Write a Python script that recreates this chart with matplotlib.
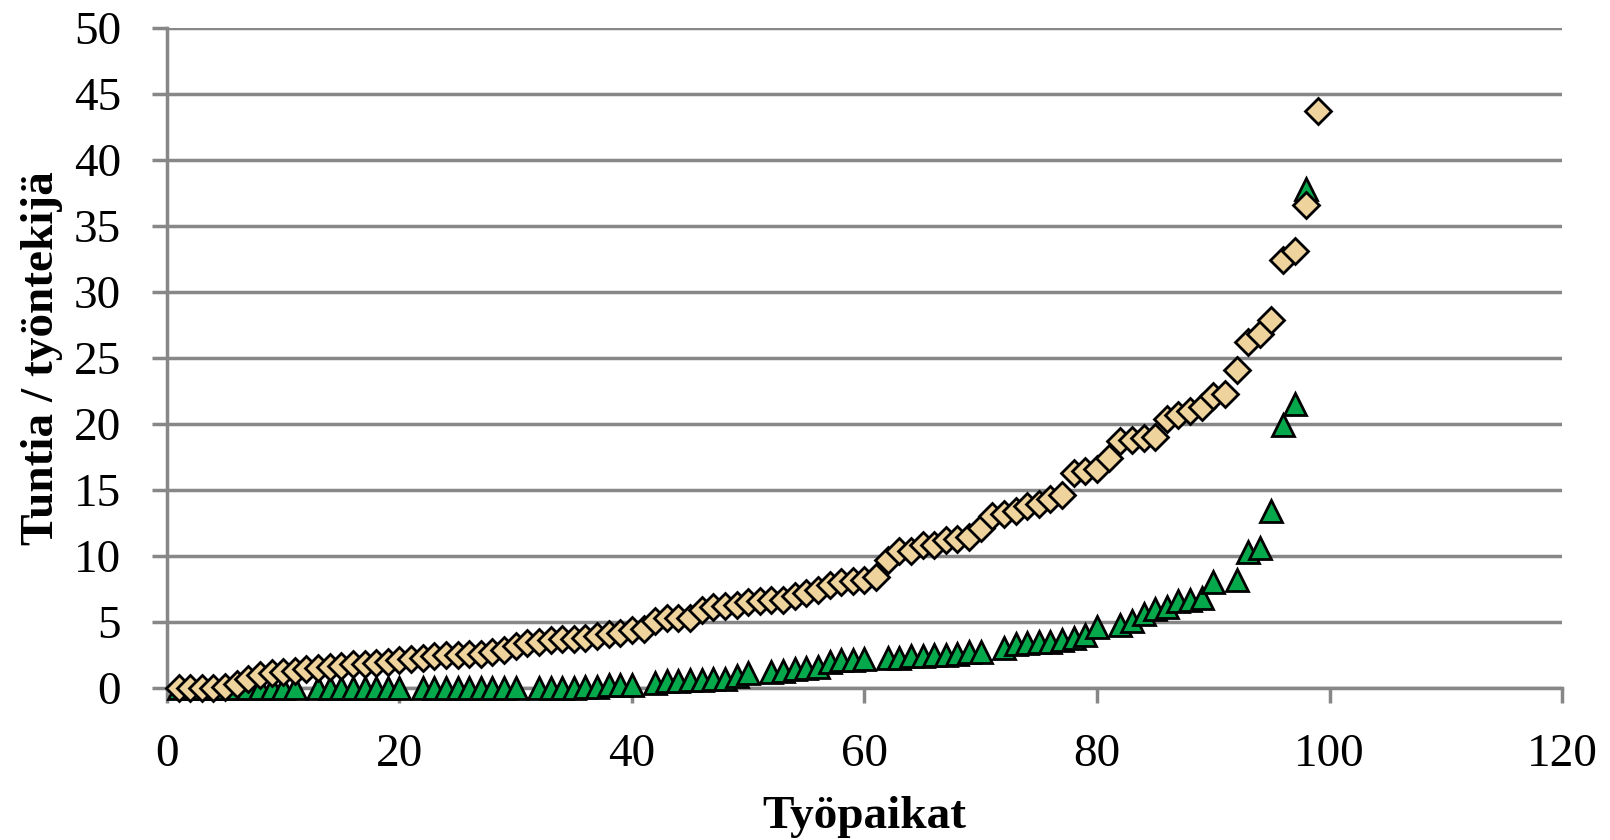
import numpy as np
import matplotlib
matplotlib.use('Agg')
import matplotlib.pyplot as plt

# workplaces 1..99, hours per worker
x_tan = np.arange(1, 100)
tan = [0, 0, 0, 0, 0.1, 0.3, 0.7, 1.0, 1.1, 1.2,
       1.3, 1.4, 1.5, 1.6, 1.7, 1.8, 1.8, 1.9, 2.0, 2.1,
       2.2, 2.3, 2.4, 2.5, 2.5, 2.6, 2.6, 2.7, 2.9, 3.2,
       3.4, 3.5, 3.6, 3.7, 3.7, 3.8, 3.9, 4.1, 4.2, 4.4,
       4.5, 5.1, 5.3, 5.3, 5.3, 5.9, 6.1, 6.2, 6.3, 6.5,
       6.6, 6.7, 6.7, 7.0, 7.2, 7.4, 7.8, 8.0, 8.1, 8.2,
       8.4, 9.7, 10.4, 10.4, 10.8, 10.8, 11.2, 11.3, 11.4, 12.1,
       13.0, 13.2, 13.4, 13.8, 13.9, 14.3, 14.6, 16.3, 16.4, 16.6,
       17.4, 18.7, 18.8, 18.9, 19.0, 20.4, 20.7, 21.0, 21.3, 22.1,
       22.3, 24.1, 26.2, 26.8, 27.9, 32.4, 33.1, 36.6, 43.7]

# second series, workplaces 1..98 (gaps = nan)
nan = np.nan
x_green = np.arange(1, 99)
green = [0, 0, 0, 0, 0, 0, 0, 0, 0, 0,
         0, nan, 0, 0, 0, 0, 0, 0, 0, 0,
         nan, 0, 0, 0, 0, 0, 0, 0, 0, 0,
         nan, 0, 0, 0, 0, 0.1, 0.1, 0.2, 0.2, 0.2,
         nan, 0.4, 0.5, 0.5, 0.6, 0.6, 0.7, 0.7, 0.9, 1.1,
         nan, 1.2, 1.3, 1.4, 1.5, 1.6, 2.0, 2.1, 2.1, 2.2,
         nan, 2.3, 2.3, 2.4, 2.4, 2.5, 2.5, 2.6, 2.7, 2.7,
         nan, 3.0, 3.3, 3.4, 3.5, 3.5, 3.6, 3.8, 4.0, 4.6,
         nan, 4.8, 5.1, 5.6, 6.0, 6.1, 6.6, 6.7, 6.8, 8.0,
         nan, 8.2, 10.3, 10.6, 13.4, 19.9, 21.5, 37.8]

plt.rcParams['font.family'] = ['Liberation Serif', 'DejaVu Serif']

fig = plt.figure(figsize=(16.1, 8.4), dpi=100)
ax = fig.add_axes([0.1037, 0.181, 0.8665, 0.7857])

grid_col = '#878787'

ax.plot(x_green, green, linestyle='none', marker='^', markersize=16,
        markerfacecolor='#05a84b', markeredgecolor='black', markeredgewidth=2,
        zorder=3, clip_on=False)
ax.plot(x_tan, tan, linestyle='none', marker='D', markersize=13,
        markerfacecolor='#eed39c', markeredgecolor='black', markeredgewidth=2,
        zorder=4, clip_on=False)

ax.set_xlim(0, 120)
ax.set_ylim(0, 50)
ax.set_xticks(np.arange(0, 121, 20))
ax.set_yticks(np.arange(0, 51, 5))

ax.yaxis.grid(True, color=grid_col, linewidth=2.5)
ax.set_axisbelow(True)

for s in ['top', 'right']:
    ax.spines[s].set_visible(False)
for s in ['left', 'bottom']:
    ax.spines[s].set_color(grid_col)
    ax.spines[s].set_linewidth(2.5)

ax.tick_params(axis='both', direction='out', length=11, width=2.5, color=grid_col,
               labelsize=34, pad=22)

ax.set_xlabel('Työpaikat', fontsize=34, fontweight='bold', labelpad=14)
ax.set_ylabel('Tuntia / työntekijä', fontsize=34, fontweight='bold', labelpad=8)

plt.savefig('out.png', dpi=100)
